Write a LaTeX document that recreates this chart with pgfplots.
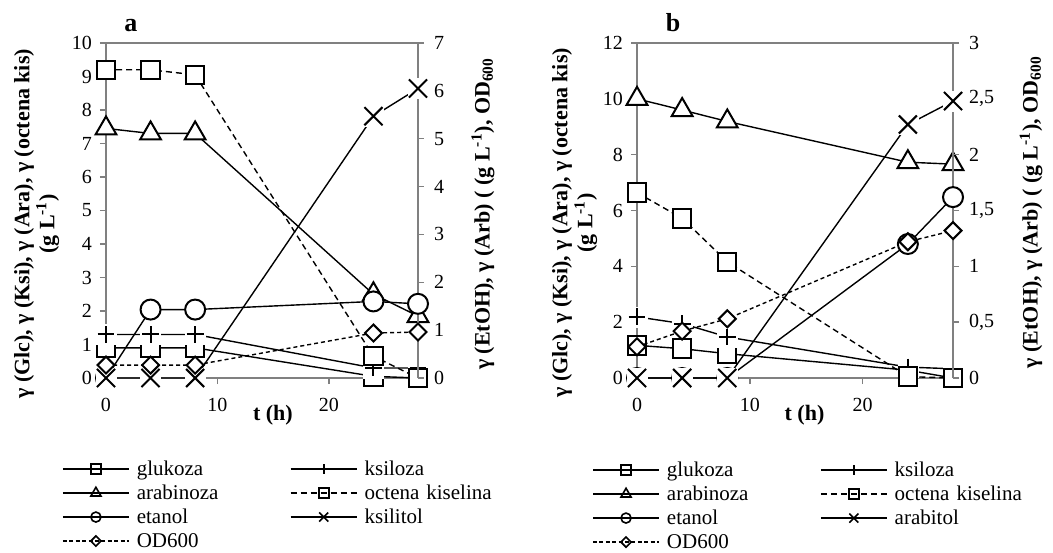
\documentclass[border=0pt]{standalone}
\usepackage{fontspec}
\setmainfont{Liberation Serif}
\usepackage{pgfplots}
\usepackage{pgfplotstable}
\pgfplotsset{compat=1.18}

% panel a, left axis: glucose, xylose, arabinose, acetic acid
\pgfplotstableread{
t   glc   ksi   ara   oct
0   0.90  1.30  7.45  9.20
4   0.90  1.30  7.30  9.20
8   0.90  1.30  7.30  9.05
24  0.05  0.30  2.50  0.65
28  0.00  0.30  1.85  0.00
}\tabAl
% panel a, right axis: ethanol, xylitol, OD600
\pgfplotstableread{
t   eto   xol   od
0   0.00  0.00  0.27
4   1.43  0.00  0.27
8   1.43  0.00  0.27
24  1.60  5.47  0.94
28  1.55  6.05  0.96
}\tabAr
% panel b
\pgfplotstableread{
t   glc   ksi   ara    oct
0   1.17  2.19  10.00  6.64
4   1.05  1.95  9.60   5.72
8   0.87  1.47  9.19   4.16
24  0.28  0.39  7.73   0.05
28  0.00  0.33  7.66   0.00
}\tabBl
\pgfplotstableread{
t   eto   xol   od
0   0.00  0.00  0.28
4   0.00  0.00  0.42
8   0.00  0.00  0.53
24  1.20  2.27  1.22
28  1.62  2.48  1.32
}\tabBr

\pgfplotsset{
  base/.style={
    scale only axis, height=167.5pt,
    xmin=0, xmax=28, clip=false,
    tick align=outside, major tick length=3pt,
    axis line style={gray, line width=0.7pt},
    tick style={gray, line width=0.7pt},
    tick label style={font=\fontsize{10}{12}\selectfont, black},
    xticklabel style={yshift=-3.5pt},
    /pgf/number format/assume math mode=true,
    label style={font=\fontsize{11}{12.5}\selectfont\bfseries, align=center},
  },
  ln/.style={black, line width=0.7pt, mark options={solid, fill=white, line width=1pt}},
  glc/.style={ln, mark=square*, mark size=4.6pt},
  ksi/.style={ln, mark=+, mark size=4.2pt},
  ara/.style={ln, mark=triangle*, mark size=6pt},
  oct/.style={ln, dash pattern=on 3pt off 2pt, mark=square*, mark size=4.6pt},
  eto/.style={ln, mark=*, mark size=5pt},
  xol/.style={ln, mark=x, mark size=6.4pt},
  od/.style={black, line width=0.7pt, dash pattern=on 2pt off 1.5pt, mark=square*, mark size=3pt,
    mark options={solid, fill=white, line width=1pt, rotate=45}},
  bgbox/.style={only marks, white, mark=square*, mark size=5pt, mark options={draw=white, fill=white, line width=0.3pt}},
  leg/.style={
    legend columns=2,
    legend image code/.code={
      \draw[##1, mark repeat=2, mark phase=2] plot coordinates {(0pt,0pt) (16.5pt,0pt) (33pt,0pt)};
    },
    legend style={anchor=north west, draw=none, fill=none, inner sep=0pt, outer sep=0pt,
      row sep=0pt, column sep=0pt,
      /tikz/every odd column/.style={column sep=3.5pt},
      nodes={inner sep=0pt, outer sep=0pt, anchor=west, text width=76.5pt, align=left,
        text height=9pt, text depth=3pt, font=\fontsize{10.5}{12}\selectfont}},
  },
  limg/.style={black, line width=0.9pt, mark options={solid, fill=white, line width=0.8pt}},
}

\begin{document}
\begin{tikzpicture}
\useasboundingbox (0,0) rectangle (526.5pt,276pt);

% ---------- panel a ----------
\begin{axis}[base, leg, width=156pt, at={(53pt,87pt)}, anchor=south west,
  ymin=0, ymax=10, xtick={0,10,20}, ytick={0,1,...,10},
  xtick pos=bottom, ytick pos=left, yticklabel style={xshift=-0.5pt},
  title={a}, title style={at={(axis description cs:0.08,1)}, anchor=base, yshift=-0.5pt,
    font=\fontsize{13}{15}\selectfont\bfseries},
  xlabel={t (h)}, xlabel style={at={(axis description cs:0.535,0)}, anchor=center, yshift=-18.5pt},
  ylabel={γ (Glc), γ (Ksi), γ (Ara), γ (octena kis)\\(g L\textsuperscript{-1})},
  ylabel style={at={(axis description cs:-0.222,0.46)}, anchor=center},
  legend style={at={(axis description cs:-0.141,-0.236)}},
]
\addplot[glc, forget plot] table[x=t, y=glc] {\tabAl};
\addplot[ln, forget plot] table[x=t, y=ksi] {\tabAl};
\addplot[bgbox, forget plot] table[x=t, y=ksi] {\tabAl};
\addplot[ksi, only marks, forget plot] table[x=t, y=ksi] {\tabAl};
\addplot[ara, forget plot] table[x=t, y=ara] {\tabAl};
\addplot[oct, forget plot] table[x=t, y=oct] {\tabAl};
\addlegendimage{limg, mark=square, mark size=2.5pt}
\addlegendimage{limg, mark=+, mark size=2.3pt}
\addlegendimage{limg, mark=triangle, mark size=2.9pt}
\addlegendimage{limg, dash pattern=on 3pt off 2pt, mark=square, mark size=2.5pt}
\addlegendimage{limg, mark=o, mark size=2.5pt}
\addlegendimage{limg, mark=x, mark size=3.2pt}
\addlegendimage{limg, dash pattern=on 2pt off 1.2pt, mark=square, mark size=1.8pt, mark options={solid, rotate=45, line width=0.8pt}}
\legend{glukoza, ksiloza, arabinoza, octena kiselina, etanol, ksilitol, OD600}
\end{axis}

\begin{axis}[base, width=156pt, at={(53pt,87pt)}, anchor=south west,
  hide x axis, axis y line*=right, ytick pos=right, yticklabel pos=right,
  yticklabel style={xshift=1.5pt},
  ymin=0, ymax=7, ytick={0,1,...,7},
  ylabel={γ (EtOH), γ (Arb) ( (g L\textsuperscript{-1}), OD\textsubscript{600}},
  ylabel style={at={(axis description cs:1.208,0.49)}, anchor=center},
]
\addplot[eto] table[x=t, y=eto] {\tabAr};
\addplot[ln] table[x=t, y=xol] {\tabAr};
\addplot[bgbox] table[x=t, y=xol] {\tabAr};
\addplot[xol, only marks] table[x=t, y=xol] {\tabAr};
\addplot[od] table[x=t, y=od] {\tabAr};
\end{axis}

% ---------- panel b ----------
\begin{axis}[base, leg, width=158pt, at={(318.5pt,87pt)}, anchor=south west,
  ymin=0, ymax=12, xtick={0,10,20}, ytick={0,2,...,12},
  xtick pos=bottom, ytick pos=left, yticklabel style={xshift=-0.5pt},
  title={b}, title style={at={(axis description cs:0.114,1)}, anchor=base, yshift=-0.5pt,
    font=\fontsize{13}{15}\selectfont\bfseries},
  xlabel={t (h)}, xlabel style={at={(axis description cs:0.53,0)}, anchor=center, yshift=-18.5pt},
  ylabel={γ (Glc), γ (Ksi), γ (Ara), γ (octena kis)\\(g L\textsuperscript{-1})},
  ylabel style={at={(axis description cs:-0.197,0.463)}, anchor=center},
  legend style={at={(axis description cs:-0.142,-0.239)}},
]
\addplot[glc, forget plot] table[x=t, y=glc] {\tabBl};
\addplot[ln, forget plot] table[x=t, y=ksi] {\tabBl};
\addplot[bgbox, forget plot] table[x=t, y=ksi] {\tabBl};
\addplot[ksi, only marks, forget plot] table[x=t, y=ksi] {\tabBl};
\addplot[ara, forget plot] table[x=t, y=ara] {\tabBl};
\addplot[oct, forget plot] table[x=t, y=oct] {\tabBl};
\addlegendimage{limg, mark=square, mark size=2.5pt}
\addlegendimage{limg, mark=+, mark size=2.3pt}
\addlegendimage{limg, mark=triangle, mark size=2.9pt}
\addlegendimage{limg, dash pattern=on 3pt off 2pt, mark=square, mark size=2.5pt}
\addlegendimage{limg, mark=o, mark size=2.5pt}
\addlegendimage{limg, mark=x, mark size=3.2pt}
\addlegendimage{limg, dash pattern=on 2pt off 1.2pt, mark=square, mark size=1.8pt, mark options={solid, rotate=45, line width=0.8pt}}
\legend{glukoza, ksiloza, arabinoza, octena kiselina, etanol, arabitol, OD600}
\end{axis}

\begin{axis}[base, width=158pt, at={(318.5pt,87pt)}, anchor=south west,
  hide x axis, axis y line*=right, ytick pos=right, yticklabel pos=right,
  yticklabel style={xshift=1.5pt},
  ymin=0, ymax=3, ytick={0,0.5,...,3}, /pgf/number format/use comma,
  ylabel={γ (EtOH), γ (Arb) ( (g L\textsuperscript{-1}), OD\textsubscript{600}},
  ylabel style={at={(axis description cs:1.247,0.495)}, anchor=center},
]
\addplot[eto] table[x=t, y=eto] {\tabBr};
\addplot[ln] table[x=t, y=xol] {\tabBr};
\addplot[bgbox] table[x=t, y=xol] {\tabBr};
\addplot[xol, only marks] table[x=t, y=xol] {\tabBr};
\addplot[od] table[x=t, y=od] {\tabBr};
\end{axis}
\end{tikzpicture}
\end{document}
